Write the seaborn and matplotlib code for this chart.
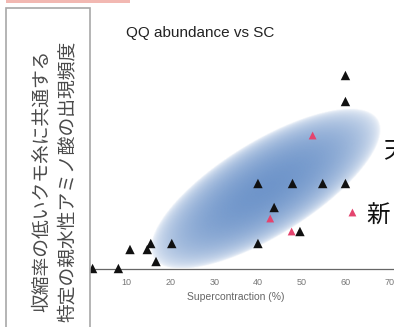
import numpy as np
import pandas as pd
import matplotlib
matplotlib.use("Agg")
import matplotlib.pyplot as plt
from matplotlib.patches import Rectangle
import seaborn as sns

# values
natural_x = [2.2, 8.1, 10.75, 14.7, 15.5, 16.7, 20.3, 40.0, 40.0, 47.9, 54.8, 60.0,
             43.7, 49.6, 60.0, 60.0]
natural_y = [0.0, 0.0, 1.9, 1.9, 2.5, 0.7, 2.5, 2.5, 8.5, 8.5, 8.5, 8.5,
             6.1, 3.7, 19.3, 16.7]
new_x = [42.8, 47.7, 61.6, 52.5]
new_y = [5.0, 3.7, 5.6, 13.3]
x_ticks = [10, 20, 30, 40, 50, 60, 70]

TITLE = "QQ abundance vs SC"
X_LABEL = "Supercontraction (%)"
BOX_TEXT = "収縮率の低いクモ糸に共通する\n特定の親水性アミノ酸の出現頻度"
LABEL_TOP = "天"
LABEL_NEW = "新"

# confidence ellipse drawn behind the points
ELL_CENTER = (41.8, 7.9)
ELL_SEMI_PX = (132, 47)
ELL_ANGLE = 31.7

W, H = 394, 327

df = pd.DataFrame({
    "sc": natural_x + new_x,
    "qq": natural_y + new_y,
    "group": ["natural"] * len(natural_x) + ["new"] * len(new_x),
})

sns.set_style("white")
plt.rcParams["font.family"] = ["Liberation Sans", "DejaVu Sans"]

fig = plt.figure(figsize=(W / 100, H / 100), dpi=100)
ax = fig.add_axes([90 / W, (H - 268.5) / H, (W - 90) / W, 218.5 / H])
ax.set_xlim(1.61, 71.1)
ax.set_ylim(0, 21.85)

# gradient ellipse
fig.canvas.draw()
x0, x1 = ax.get_xlim()
y0, y1 = ax.get_ylim()
gx = np.linspace(x0, x1, 400)
gy = np.linspace(y0, y1, 300)
XX, YY = np.meshgrid(gx, gy)
p0 = ax.transData.transform((x0, y0))
p1 = ax.transData.transform((x1, y1))
sx = (p1[0] - p0[0]) / (x1 - x0)
sy = (p1[1] - p0[1]) / (y1 - y0)
u = (XX - ELL_CENTER[0]) * sx
v = (YY - ELL_CENTER[1]) * sy
t = np.deg2rad(ELL_ANGLE)
pa = u * np.cos(t) + v * np.sin(t)
pb = -u * np.sin(t) + v * np.cos(t)
r2 = (pa / ELL_SEMI_PX[0]) ** 2 + (pb / ELL_SEMI_PX[1]) ** 2
w = np.clip(1 - r2, 0, 1) ** 0.5 * 0.78
rgba = np.zeros(XX.shape + (4,))
rgba[..., :3] = matplotlib.colors.to_rgb("#4677bb")
rgba[..., 3] = w
ax.imshow(rgba, extent=(x0, x1, y0, y1), origin="lower", aspect="auto",
          interpolation="bilinear", zorder=0)

sns.scatterplot(data=df, x="sc", y="qq", hue="group", style="group",
                markers={"natural": "^", "new": "^"},
                palette={"natural": "#111111", "new": "#e4446e"},
                size="group", sizes={"natural": 46, "new": 32},
                linewidth=0, legend=False, ax=ax, zorder=3, clip_on=False)

sns.despine(ax=ax, left=True, top=True, right=True)
ax.spines["bottom"].set_color("#666666")
ax.spines["bottom"].set_linewidth(0.9)
ax.set_xticks(x_ticks)
ax.set_yticks([])
ax.tick_params(axis="x", direction="inout", length=4, width=0.7, color="#777777",
               labelsize=6.5, labelcolor="#777777", pad=4.5)
ax.set_xlabel(X_LABEL, fontsize=7.5, color="#666666")
ax.xaxis.set_label_coords((235.5 - 90) / (W - 90), -(297 - 268.5) / 218.5)
ax.xaxis.label.set_va("center")
ax.set_ylabel("")
ax.patch.set_alpha(0)

fig.text(200 / W, 1 - 33 / H, TITLE, ha="center", va="center", fontsize=11,
         color="#222222")

# left caption box and pink strip
fig.patches.append(Rectangle((6 / W, -0.05), 84 / W, 1.05 - 8 / H,
                             transform=fig.transFigure, facecolor="white",
                             edgecolor="#a8a8a8", linewidth=1.2, zorder=5))
fig.patches.append(Rectangle((6 / W, 1 - 3 / H), 124 / W, 3 / H,
                             transform=fig.transFigure, facecolor="#f2b8b2",
                             edgecolor="none", zorder=5))
fig.text(54 / W, 1 - 181 / H, BOX_TEXT, rotation=90, ha="center", va="center",
         multialignment="center", fontsize=13.5, linespacing=1.3,
         family=["Noto Sans CJK JP", "DejaVu Sans"], color="#4a4a4a", zorder=6)

fig.text(383 / W, 1 - 151 / H, LABEL_TOP, ha="left", va="center", fontsize=17,
         family=["Noto Sans CJK JP", "DejaVu Sans"], color="#111111")
fig.text(366 / W, 1 - 216 / H, LABEL_NEW, ha="left", va="center", fontsize=17,
         family=["Noto Sans CJK JP", "DejaVu Sans"], color="#111111")

fig.savefig("out.png", dpi=100)
